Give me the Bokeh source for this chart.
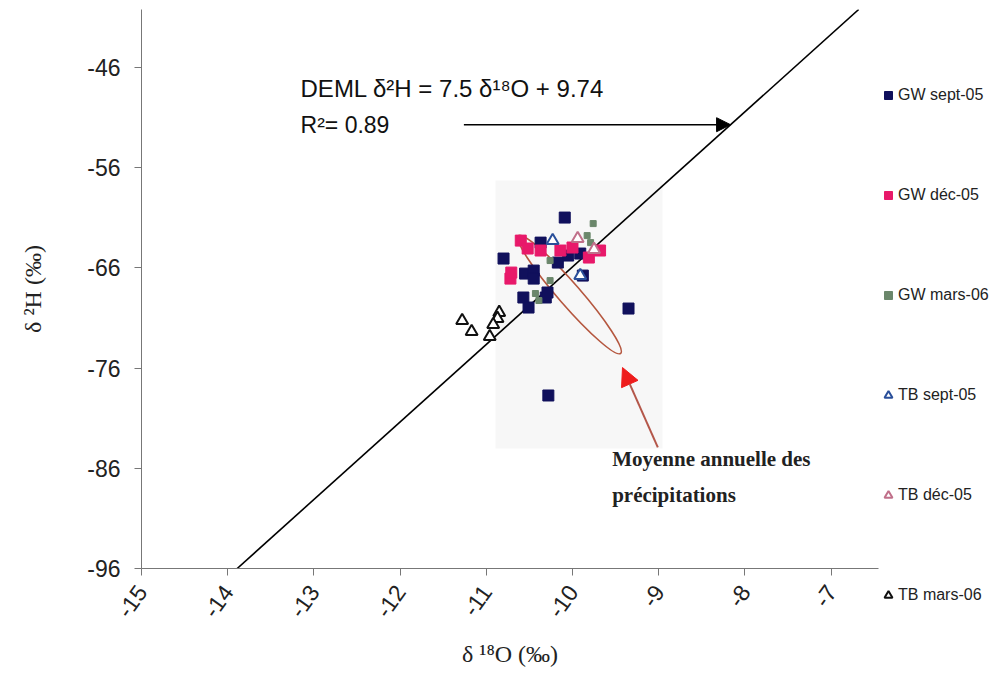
from bokeh.plotting import figure
from bokeh.models import (Range1d, FixedTicker, Label, Arrow, NormalHead, Legend,
                          LegendItem)
from bokeh.embed import file_html
from bokeh.resources import INLINE

# ---- data ----
gw_sep_x = [-10.09, -10.37, -10.80, -10.55, -10.45, -10.45, -10.57, -10.51, -10.31, -10.29, -10.17, -10.05, -9.91, -9.88, -9.35, -10.28]
gw_sep_y = [-60.97, -63.47, -65.06, -66.56, -66.26, -67.06, -68.95, -69.95, -68.95, -68.45, -65.46, -64.76, -64.56, -66.76, -70.05, -78.73]

gw_dec_x = [-10.60, -10.52, -10.37, -10.14, -10.00, -9.68, -9.81, -10.72, -10.71]
gw_dec_y = [-63.27, -64.06, -64.26, -64.26, -63.96, -64.26, -64.96, -67.06, -66.46]

gw_mar_x = [-9.76, -9.83, -9.79, -10.26, -10.26, -10.43, -10.39]
gw_mar_y = [-61.57, -62.77, -63.47, -65.26, -67.26, -68.55, -69.25]

tb_sep_x = [-10.23, -9.91]
tb_sep_y = [-63.27, -66.76]

tb_dec_x = [-9.94, -9.75]
tb_dec_y = [-63.07, -64.16]

tb_mar_x = [-11.28, -11.17, -10.85, -10.87, -10.92, -10.96]
tb_mar_y = [-71.25, -72.35, -70.45, -71.05, -71.65, -72.85]

# DEML regression line (end points)
deml_x = [-13.89, -6.68]
deml_y = [-96.0, -40.2]

# Mean annual precipitation ellipse (centre)
ell_x = [-10.035]
ell_y = [-68.65]

# Faint background panel (inserted picture)
panel_left, panel_right = [-10.893], [-8.956]
panel_bottom, panel_top = [-84.02], [-57.28]

x_ticks = [-15, -14, -13, -12, -11, -10, -9, -8, -7]
y_ticks = [-96, -86, -76, -66, -56, -46]

legend_labels = ["GW sept-05", "GW déc-05", "GW mars-06", "TB sept-05", "TB déc-05", "TB mars-06"]

SANS = "Liberation Sans"
SERIF = "Liberation Serif"

styles = [
    dict(marker="square", fill="#10105c", line="#10105c", size=11, lw=1),
    dict(marker="square", fill="#e8196a", line="#e8196a", size=11, lw=1),
    dict(marker="square", fill="#6b876b", line="#6b876b", size=6, lw=1),
    dict(marker="triangle", fill="white", line="#2a4f9a", size=12, lw=2),
    dict(marker="triangle", fill="white", line="#c0708a", size=12, lw=2),
    dict(marker="triangle", fill="white", line="#111111", size=12, lw=2),
]

p = figure(frame_width=737, frame_height=559, output_backend="svg", toolbar_location=None,
           x_range=Range1d(-15, -6.45), y_range=Range1d(-96, -40.2),
           min_border_left=141, min_border_right=0, min_border_top=9,
           min_border_bottom=118)
p.outline_line_color = None
p.xgrid.visible = False
p.ygrid.visible = False

# axes
p.xaxis.ticker = FixedTicker(ticks=x_ticks)
p.yaxis.ticker = FixedTicker(ticks=y_ticks)
p.xaxis.major_label_overrides = {t: str(t) for t in x_ticks}
p.yaxis.major_label_overrides = {t: str(t) for t in y_ticks}
p.xaxis.minor_tick_line_color = None
p.yaxis.minor_tick_line_color = None
for ax in (p.xaxis, p.yaxis):
    ax.axis_line_color = "#777777"
    ax.major_tick_line_color = "#777777"
    ax.major_tick_in = 0
    ax.major_tick_out = 7
    ax.major_label_text_font = SANS
    ax.major_label_text_font_size = "23px"
    ax.major_label_text_color = "#222222"
    ax.axis_label_text_font = SERIF
    ax.axis_label_text_font_size = "24px"
    ax.axis_label_text_font_style = "normal"
    ax.axis_label_text_color = "#222222"
p.yaxis.major_label_standoff = 14
p.xaxis.major_label_standoff = 12
p.xaxis.major_label_orientation = 0.95
p.yaxis.axis_label = "δ ²H (‰)"
p.xaxis.axis_label = "δ ¹⁸O (‰)"
p.yaxis.axis_label_standoff = 38
p.xaxis.axis_label_standoff = 14

# faint panel
p.quad(left=panel_left, right=panel_right, bottom=panel_bottom, top=panel_top,
       fill_color="#f7f7f7", line_color=None)

# DEML line
p.line(deml_x, deml_y, line_color="black", line_width=1.6)

# ellipse
p.ellipse(x=ell_x, y=ell_y, width=156, height=22, angle=-0.855,
          width_units="screen", height_units="screen",
          fill_color=None, line_color="#b5573f", line_width=1.6)

# points
series = [(gw_sep_x, gw_sep_y), (gw_dec_x, gw_dec_y), (gw_mar_x, gw_mar_y),
          (tb_sep_x, tb_sep_y), (tb_dec_x, tb_dec_y), (tb_mar_x, tb_mar_y)]
renderers = []
for (xs, ys), st in zip(series, styles):
    renderers.append(p.scatter(xs, ys, marker=st["marker"], size=st["size"],
                               fill_color=st["fill"], line_color=st["line"],
                               line_width=st["lw"]))

# equation annotation
p.add_layout(Label(x=-13.155, y=-48.1, text="DEML δ²H = 7.5 δ¹⁸O + 9.74",
                   text_font=SANS, text_font_size="24px", text_color="#111111",
                   text_baseline="middle", text_align="left"))
p.add_layout(Label(x=-13.155, y=-51.7, text="R²= 0.89",
                   text_font=SANS, text_font_size="23px", text_color="#111111",
                   text_baseline="middle", text_align="left"))

# black arrow ending on the DEML line
arrow_y = -51.7
slope = (deml_y[1] - deml_y[0]) / (deml_x[1] - deml_x[0])
arrow_x_end = deml_x[0] + (arrow_y - deml_y[0]) / slope
p.add_layout(Arrow(end=NormalHead(size=14, fill_color="black", line_color="black"),
                   x_start=-11.26, y_start=arrow_y, x_end=arrow_x_end, y_end=arrow_y,
                   line_color="black", line_width=1.6))

# red arrow to ellipse
p.add_layout(Arrow(end=NormalHead(size=18, fill_color="#ee1c1c", line_color="#ee1c1c"),
                   x_start=-9.01, y_start=-83.9, x_end=-9.42, y_end=-75.94,
                   line_color="#b4574a", line_width=2))

p.add_layout(Label(x=-9.54, y=-85.1, text="Moyenne annuelle des",
                   text_font=SERIF, text_font_size="21px", text_font_style="bold",
                   text_color="#222222", text_baseline="middle"))
p.add_layout(Label(x=-9.54, y=-88.7, text="précipitations",
                   text_font=SERIF, text_font_size="21px", text_font_style="bold",
                   text_color="#222222", text_baseline="middle"))

# legend in the right side panel; an empty title pushes the items down
items = [LegendItem(label=lab, renderers=[r]) for lab, r in zip(legend_labels, renderers)]
legend = Legend(items=items, location="top_left", orientation="vertical",
                title=" ", title_text_font_size="15px", title_standoff=59,
                spacing=80, padding=0, margin=0, glyph_width=20, glyph_height=20,
                label_height=20, label_standoff=0,
                label_text_font=SANS, label_text_font_size="16px",
                label_text_color="#222222",
                background_fill_alpha=0, border_line_alpha=0)
p.add_layout(legend, "right")

open("out.html", "w").write(file_html(p, INLINE))
